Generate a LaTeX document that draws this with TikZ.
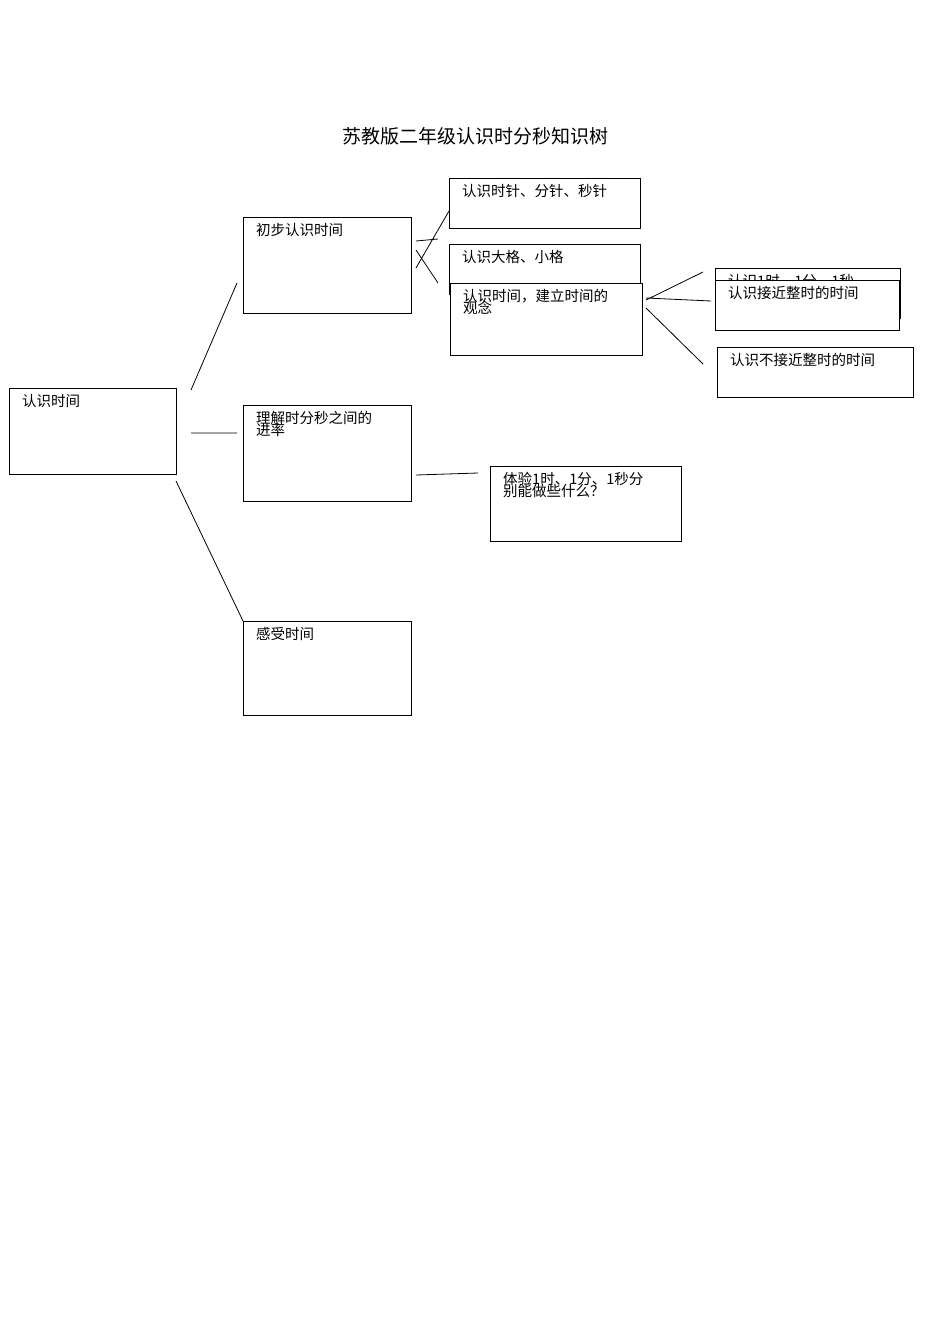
\documentclass[tikz,border=0pt]{standalone}
\usepackage{fontspec}
\newfontfamily\cjk{Noto Sans CJK SC}
\begin{document}
\begin{tikzpicture}[x=1pt,y=-1pt,
  bx/.style={draw,line width=0.8pt,fill=white},
  tx/.style={anchor=north west,font=\cjk\fontsize{14.5}{15}\selectfont,inner sep=0pt,align=left},
  ln/.style={line width=0.8pt}]
\useasboundingbox (0,0) rectangle (950,1344);
\node[font=\cjk\fontsize{19}{20}\selectfont] (title) at (475,136) {苏教版二年级认识时分秒知识树};
\newcommand\bxx[6]{\draw[bx] (#1,#2) rectangle (#3,#4); \node[tx] (#5) at (#1+13,#2+6) {#6};}
\bxx{9}{388}{176}{474}{a}{认识时间}
\bxx{243}{217}{411}{313}{b}{初步认识时间}
\bxx{243}{405}{411}{501}{c}{理解时分秒之间的\\[-3pt]进率}
\bxx{243}{621}{411}{715}{d}{感受时间}
\bxx{449}{178}{640}{228}{e}{认识时针、分针、秒针}
\bxx{449}{244}{640}{294}{f}{认识大格、小格}
\bxx{450}{283}{642}{355}{g}{认识时间，建立时间的\\[-3pt]观念}
\bxx{715}{268}{900}{318}{h}{认识1时、1分、1秒}
\bxx{715}{280}{899}{330}{i}{认识接近整时的时间}
\bxx{717}{347}{913}{397}{j}{认识不接近整时的时间}
\bxx{490}{466}{681}{541}{k}{体验1时、1分、1秒分\\[-3pt]别能做些什么？}
\coordinate (p1) at (191,390); \coordinate (p2) at (237,283);
\coordinate (p3) at (191,433); \coordinate (p4) at (237,433);
\coordinate (p5) at (176,481); \coordinate (p6) at (243,621);
\coordinate (q1) at (416,241); \coordinate (q2) at (438,239);
\coordinate (q3) at (416,268); \coordinate (q4) at (449,211);
\coordinate (q5) at (416,250); \coordinate (q6) at (438,283);
\coordinate (r1) at (646,300); \coordinate (r2) at (703,272);
\coordinate (r3) at (646,298); \coordinate (r4) at (711,301);
\coordinate (r5) at (646,308); \coordinate (r6) at (703,364);
\coordinate (s1) at (416,475); \coordinate (s2) at (478,473);
\draw[ln] (p1)--(p2) (p3)--(p4) (p5)--(p6) (q1)--(q2) (q3)--(q4) (q5)--(q6)
  (r1)--(r2) (r3)--(r4) (r5)--(r6) (s1)--(s2);
\end{tikzpicture}
\end{document}
